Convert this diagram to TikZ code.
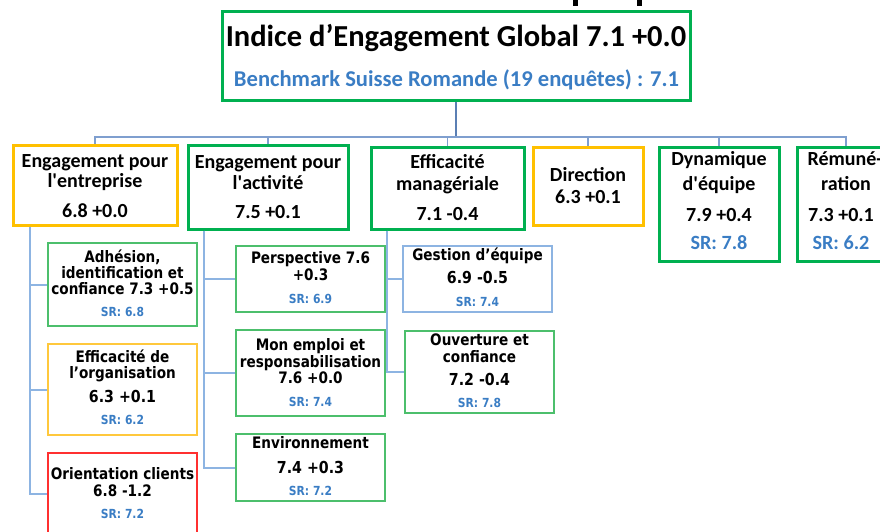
\documentclass[tikz,border=0pt]{standalone}
\usepackage{fontspec}
\newfontfamily\carl{Carlito}
\newfontfamily\dejav{DejaVu Sans}[FakeStretch=0.86]
\definecolor{cGreen}{HTML}{00B050}
\definecolor{cYellow}{HTML}{FFC000}
\definecolor{cLGreen}{HTML}{4CBF6C}
\definecolor{cLYellow}{HTML}{FFC83C}
\definecolor{cRed}{HTML}{FF3030}
\definecolor{cLBlue}{HTML}{8DB4E2}
\definecolor{cText}{HTML}{3A7DC4}
\definecolor{cConn}{HTML}{7F9FCF}
\definecolor{cMain}{HTML}{5B7FB4}
\tikzset{
  gbox/.style={draw=cGreen, line width=3pt, inner sep=0pt},
  ybox/.style={draw=cYellow, line width=3pt, inner sep=0pt},
  lgbox/.style={draw=cLGreen, line width=1.5pt, inner sep=0pt},
  lybox/.style={draw=cLYellow, line width=1.5pt, inner sep=0pt},
  rbox/.style={draw=cRed, line width=1.5pt, inner sep=0pt},
  lbbox/.style={draw=cLBlue, line width=1.5pt, inner sep=0pt},
  titlef/.style={anchor=base, inner sep=0pt, font=\carl\bfseries\fontsize{30.5}{32}\selectfont},
  benchf/.style={anchor=base, inner sep=0pt, text=cText, font=\carl\bfseries\fontsize{22.6}{23}\selectfont},
  topf/.style={anchor=base, inner sep=0pt, font=\carl\bfseries\fontsize{20}{20}\selectfont},
  topsr/.style={anchor=base, inner sep=0pt, text=cText, font=\carl\bfseries\fontsize{20.2}{20}\selectfont},
  subf/.style={anchor=base, inner sep=0pt, font=\dejav\bfseries\fontsize{15.8}{16}\selectfont},
  subn/.style={anchor=base, inner sep=0pt, font=\dejav\bfseries\fontsize{16.5}{17}\selectfont},
  subsr/.style={anchor=base, inner sep=0pt, text=cText, font=\dejav\bfseries\fontsize{12.5}{13}\selectfont},
  mconn/.style={draw=cMain, line width=1.3pt},
  hconn/.style={draw=cConn, line width=1.3pt},
  tconn/.style={draw=cLBlue, line width=2pt}
}
\begin{document}
\begin{tikzpicture}[x=1pt,y=-1pt]
\useasboundingbox (0,0) rectangle (880,531);
% fragments of a cropped title above
\fill (573,0) rectangle (578,6);
\fill (637,0) rectangle (642,6);

% main box
\node[gbox, minimum width=468, minimum height=89] (main) at (456,55.5) {};
\node[titlef] (mt) at (456,46) {Indice d’Engagement Global 7.1 +0.0};
\node[benchf] (mb) at (456.5,86) {Benchmark Suisse Romande (19 enquêtes) : 7.1};

% top level boxes
\node[ybox, minimum width=164, minimum height=80] (b1) at (95,185) {};
\node[gbox, minimum width=160, minimum height=84] (b2) at (268,187) {};
\node[gbox, minimum width=153, minimum height=82] (b3) at (447.5,188) {};
\node[ybox, minimum width=110, minimum height=78] (b4) at (588,186) {};
\node[gbox, minimum width=120, minimum height=114] (b5) at (719,204) {};
\node[gbox, minimum width=98, minimum height=114] (b6) at (846,204) {};

\node[topf] (b1a) at (95,167) {Engagement pour};
\node[topf] (b1b) at (95,187) {l\textquotesingle entreprise};
\node[topf] (b1c) at (95,217) {6.8 +0.0};

\node[topf] (b2a) at (268,168) {Engagement pour};
\node[topf] (b2b) at (268,189) {l\textquotesingle activité};
\node[topf] (b2c) at (268,218) {7.5 +0.1};

\node[topf] (b3a) at (447.5,168) {Efficacité};
\node[topf] (b3b) at (447.5,190) {managériale};
\node[topf] (b3c) at (447.5,220) {7.1 -0.4};

\node[topf] (b4a) at (588,181) {Direction};
\node[topf] (b4b) at (588,203) {6.3 +0.1};

\node[topf] (b5a) at (719,165) {Dynamique};
\node[topf] (b5b) at (719,190) {d\textquotesingle équipe};
\node[topf] (b5c) at (719,221) {7.9 +0.4};
\node[topsr] (b5d) at (719,249) {SR: 7.8};

\node[topf] (b6a) at (845,165) {Rémuné-};
\node[topf] (b6b) at (846,190) {ration};
\node[topf] (b6c) at (841,221) {7.3 +0.1};
\node[topsr] (b6d) at (841,249) {SR: 6.2};

% connectors from main
\coordinate (hub) at (456,137);
\draw[mconn] (main.south) -- (hub);
\draw[hconn] (hub) -| (b1.north);
\draw[hconn] (hub) -| (b2.north);
\draw[hconn] (hub) -| (b3.north);
\draw[hconn] (hub) -| (b4.north);
\draw[hconn] (hub) -| (b5.north);
\draw[hconn] (hub) -| (b6.north);

% column 1
\node[lgbox, minimum width=149, minimum height=83] (s11) at (122.5,284.5) {};
\node[lybox, minimum width=149, minimum height=91] (s12) at (122.5,389.5) {};
\node[rbox, minimum width=149, minimum height=82] (s13) at (122.5,494) {};

\node[subf] (s11a) at (122.5,262) {Adhésion,};
\node[subf] (s11b) at (122.5,278) {identification et};
\node[subf] (s11c) at (122.5,294) {confiance 7.3 +0.5};
\node[subsr] (s11d) at (122.5,316) {SR: 6.8};

\node[subf] (s12a) at (122.5,362) {Efficacité de};
\node[subf] (s12b) at (122.5,378) {l’organisation};
\node[subn] (s12c) at (122.5,402) {6.3 +0.1};
\node[subsr] (s12d) at (122.5,424) {SR: 6.2};

\node[subf] (s13a) at (122.5,479) {Orientation clients};
\node[subf] (s13b) at (122.5,496) {6.8 -1.2};
\node[subsr] (s13c) at (122.5,518) {SR: 7.2};

% column 2
\node[lgbox, minimum width=149, minimum height=66] (s21) at (310.5,279) {};
\node[lgbox, minimum width=149, minimum height=86] (s22) at (310.5,373) {};
\node[lgbox, minimum width=149, minimum height=67] (s23) at (310.5,467.5) {};

\node[subf] (s21a) at (310.5,263) {Perspective 7.6};
\node[subf] (s21b) at (310.5,280) {+0.3};
\node[subsr] (s21c) at (310.5,303) {SR: 6.9};

\node[subf] (s22a) at (310.5,350) {Mon emploi et};
\node[subf] (s22b) at (310.5,367) {responsabilisation};
\node[subf] (s22c) at (310.5,383) {7.6 +0.0};
\node[subsr] (s22d) at (310.5,406) {SR: 7.4};

\node[subf] (s23a) at (310.5,448) {Environnement};
\node[subn] (s23b) at (310.5,473) {7.4 +0.3};
\node[subsr] (s23c) at (310.5,495) {SR: 7.2};

% column 3
\node[lbbox, minimum width=149, minimum height=66] (s31) at (477.5,279) {};
\node[lgbox, minimum width=149, minimum height=82] (s32) at (479.5,372) {};

\node[subf] (s31a) at (477.5,260) {Gestion d’équipe};
\node[subn] (s31b) at (477.5,283) {6.9 -0.5};
\node[subsr] (s31c) at (477.5,306) {SR: 7.4};

\node[subf] (s32a) at (479.5,345) {Ouverture et};
\node[subf] (s32b) at (479.5,362) {confiance};
\node[subn] (s32c) at (479.5,385) {7.2 -0.4};
\node[subsr] (s32d) at (479.5,407) {SR: 7.8};

% trunks
\coordinate (k1) at (30,0);
\coordinate (k2) at (204,0);
\coordinate (k3) at (387,0);
\draw[tconn] (b1.south -| k1) |- (s11.west);
\draw[tconn] (b1.south -| k1) |- (s12.west);
\draw[tconn] (b1.south -| k1) |- (s13.west);
\draw[tconn] (b2.south -| k2) |- (s21.west);
\draw[tconn] (b2.south -| k2) |- (s22.west);
\draw[tconn] (b2.south -| k2) |- (s23.west);
\draw[tconn] (b3.south -| k3) |- (s31.west);
\draw[tconn] (b3.south -| k3) |- (s32.west);
\end{tikzpicture}
\end{document}
